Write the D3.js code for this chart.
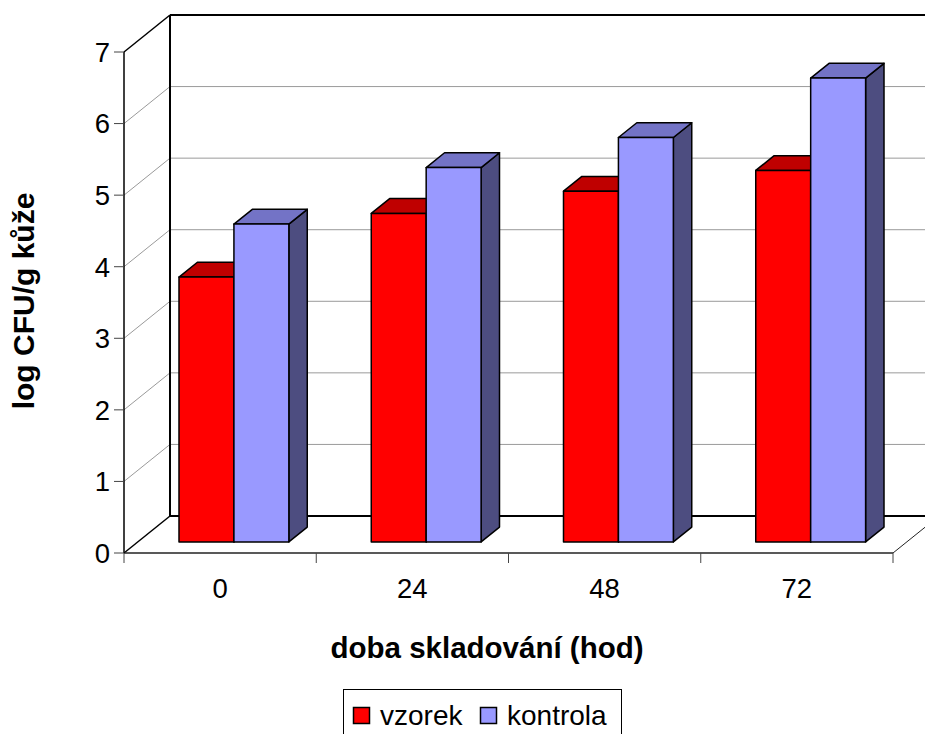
<!DOCTYPE html>
<html>
<head>
<meta charset="utf-8">
<script src="https://cdn.jsdelivr.net/npm/d3@7"></script>
<style>
  html, body { margin: 0; padding: 0; background: #fff; }
  svg { display: block; font-family: "Liberation Sans", Arial, sans-serif; }
</style>
</head>
<body>
<svg id="chart" width="925" height="734"></svg>
<script>
// Storage time categories (hours)
const categories = ["0", "24", "48", "72"];
// Series values, log CFU per gram of skin
const seriesNames = ["vzorek", "kontrola"];
const vzorek = [3.70, 4.59, 4.90, 5.19];
const kontrola = [4.44, 5.23, 5.65, 6.48];
const yTicks = [0, 1, 2, 3, 4, 5, 6, 7];

const frontColors = ["#FF0000", "#9999FF"];
const topColors = ["#BF0000", "#7373C6"];
const sideColors = ["#B00000", "#4D4D80"];

const svg = d3.select("#chart");

// 3D box geometry: plot floor front edge and depth offset of the back wall
const plotL = 124, plotR = 893, plotB = 553, plotT = 52;
const depthX = 46, depthY = -37;

const x = d3.scaleBand().domain(categories).range([plotL, plotR]).paddingInner(0).paddingOuter(0);
const y = d3.scaleLinear().domain([0, 7]).range([plotB, plotT]);
// gap width 150%: two bars per category
const inner = d3.scaleBand().domain(seriesNames).range([0, x.bandwidth()]).paddingOuter(0.75).paddingInner(0);

// projection of a point at value v, horizontal px, depth fraction d (0 front, 1 back)
const P = (px, v, d) => [px + d * depthX, y(v) + d * depthY];
const path = pts => "M" + pts.map(p => p.join(",")).join("L") + "Z";

const gWall = svg.append("g");
const W = 960;

// Gridlines on back wall and side wall
yTicks.filter(t => t > 0 && t < 7).forEach(t => {
  const a = P(plotL, t, 0), b = P(plotL, t, 1);
  gWall.append("line").attr("x1", a[0]).attr("y1", a[1]).attr("x2", b[0]).attr("y2", b[1])
    .attr("stroke", "#9a9a9a").attr("stroke-width", 1);
  gWall.append("line").attr("x1", b[0]).attr("y1", b[1]).attr("x2", W).attr("y2", b[1])
    .attr("stroke", "#9a9a9a").attr("stroke-width", 1);
});

// Wall outlines
const tl = P(plotL, 7, 1), bl = P(plotL, 0, 1);
gWall.append("line").attr("x1", tl[0]).attr("y1", tl[1]).attr("x2", bl[0]).attr("y2", bl[1])
  .attr("stroke", "#000").attr("stroke-width", 2);
gWall.append("line").attr("x1", tl[0]).attr("y1", tl[1]).attr("x2", W).attr("y2", tl[1])
  .attr("stroke", "#000").attr("stroke-width", 2);
gWall.append("line").attr("x1", bl[0]).attr("y1", bl[1]).attr("x2", W).attr("y2", bl[1])
  .attr("stroke", "#000").attr("stroke-width", 2);
const ft = P(plotL, 7, 0);
gWall.append("line").attr("x1", ft[0]).attr("y1", ft[1]).attr("x2", tl[0]).attr("y2", tl[1])
  .attr("stroke", "#000").attr("stroke-width", 1.5);
// Floor edges
const f0 = P(plotL, 0, 0), f1 = P(plotR, 0, 0), b1 = P(plotR, 0, 1);
gWall.append("line").attr("x1", f0[0]).attr("y1", f0[1]).attr("x2", bl[0]).attr("y2", bl[1])
  .attr("stroke", "#000").attr("stroke-width", 1.5);
gWall.append("line").attr("x1", f1[0]).attr("y1", f1[1]).attr("x2", b1[0]).attr("y2", b1[1])
  .attr("stroke", "#222").attr("stroke-width", 1);

// Bars
const d0 = 0.3, d1 = 0.7;
const gBars = svg.append("g");
categories.forEach((c, i) => {
  [vzorek, kontrola].forEach((vals, s) => {
    const v = vals[i];
    const x0 = x(c) + inner(seriesNames[s]);
    const x1 = x0 + inner.bandwidth();
    const g = gBars.append("g");
    // right side
    g.append("path").attr("d", path([P(x1, 0, d0), P(x1, v, d0), P(x1, v, d1), P(x1, 0, d1)]))
      .attr("fill", sideColors[s]).attr("stroke", "#000").attr("stroke-width", 1.5).attr("stroke-linejoin", "round");
    // top
    g.append("path").attr("d", path([P(x0, v, d0), P(x1, v, d0), P(x1, v, d1), P(x0, v, d1)]))
      .attr("fill", topColors[s]).attr("stroke", "#000").attr("stroke-width", 1.5).attr("stroke-linejoin", "round");
    // front
    g.append("path").attr("d", path([P(x0, 0, d0), P(x1, 0, d0), P(x1, v, d0), P(x0, v, d0)]))
      .attr("fill", frontColors[s]).attr("stroke", "#000").attr("stroke-width", 1.5).attr("stroke-linejoin", "round");
  });
});

// Front floor edge and axes
const gAxis = svg.append("g");
gAxis.append("line").attr("x1", plotL).attr("y1", plotB).attr("x2", plotR).attr("y2", plotB)
  .attr("stroke", "#222").attr("stroke-width", 1.5);
gAxis.append("line").attr("x1", plotL).attr("y1", y(7)).attr("x2", plotL).attr("y2", plotB)
  .attr("stroke", "#000").attr("stroke-width", 1.5);

// Y axis ticks and labels
yTicks.forEach(t => {
  gAxis.append("line").attr("x1", plotL - 10).attr("y1", y(t)).attr("x2", plotL).attr("y2", y(t))
    .attr("stroke", "#444").attr("stroke-width", 1);
  gAxis.append("text").attr("x", plotL - 14).attr("y", y(t)).attr("dy", "0.36em")
    .attr("text-anchor", "end").attr("font-size", 27.5).attr("fill", "#000").text(t);
});

// X axis ticks and labels
d3.range(categories.length + 1).forEach(i => {
  const px = plotL + i * x.bandwidth();
  gAxis.append("line").attr("x1", px).attr("y1", plotB).attr("x2", px).attr("y2", plotB + 10)
    .attr("stroke", "#444").attr("stroke-width", 1);
});
categories.forEach(c => {
  gAxis.append("text").attr("x", x(c) + x.bandwidth() / 2).attr("y", 598)
    .attr("text-anchor", "middle").attr("font-size", 27.5).attr("fill", "#000").text(c);
});

// Axis titles
svg.append("text").attr("x", 487).attr("y", 658).attr("text-anchor", "middle")
  .attr("font-size", 29.5).attr("font-weight", "bold").text("doba skladování (hod)");
svg.append("text").attr("transform", "translate(34,301) rotate(-90)").attr("text-anchor", "middle")
  .attr("font-size", 30).attr("font-weight", "bold").text("log CFU/g kůže");

// Legend
const lg = svg.append("g");
lg.append("rect").attr("x", 343.5).attr("y", 689.5).attr("width", 278).attr("height", 60)
  .attr("fill", "#fff").attr("stroke", "#000").attr("stroke-width", 1);
const legendX = [353, 480];
seriesNames.forEach((n, s) => {
  lg.append("rect").attr("x", legendX[s] + 0.5).attr("y", 707.5).attr("width", 16).attr("height", 16)
    .attr("fill", frontColors[s]).attr("stroke", "#000").attr("stroke-width", 1.5);
  lg.append("text").attr("x", legendX[s] + 27).attr("y", 725).attr("font-size", 28).text(n);
});
</script>
</body>
</html>
